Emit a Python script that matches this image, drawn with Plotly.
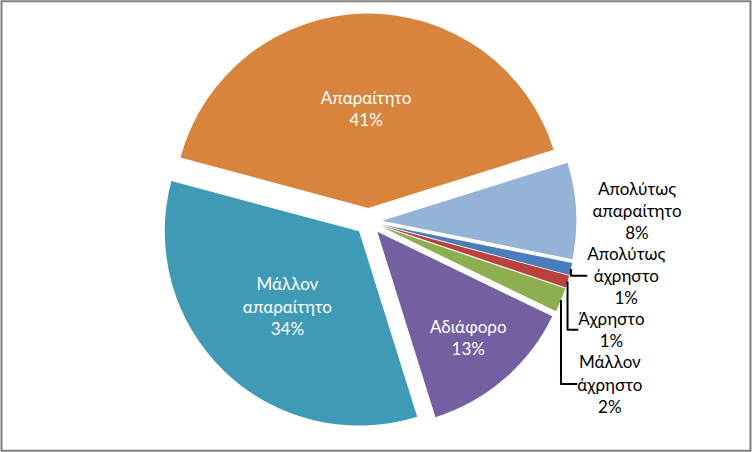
import plotly.graph_objects as go

categories = ['Απαραίτητο', 'Απολύτως απαραίτητο', 'Απολύτως άχρηστο',
              'Άχρηστο', 'Μάλλον άχρηστο', 'Αδιάφορο', 'Μάλλον απαραίτητο']
values = [41, 8, 1, 1, 2, 13, 34]
display_labels = ['Απαραίτητο', 'Απολύτως<br>απαραίτητο', 'Απολύτως<br>άχρηστο',
                  'Άχρηστο', 'Μάλλον<br>άχρηστο', 'Αδιάφορο', 'Μάλλον<br>απαραίτητο']

colors = ['#D9843C', '#95B3D7', '#4A7EBB', '#B9413E', '#8CAE4E', '#7460A0', '#3E9AB5']
positions = ['inside', 'outside', 'outside', 'outside', 'outside', 'inside', 'inside']
text_colors = ['white', 'black', 'black', 'black', 'black', 'white', 'white']

fig = go.Figure()

fig.add_trace(go.Pie(
    labels=categories,
    values=values,
    text=display_labels,
    texttemplate='%{text}<br>%{percent:.0%}',
    textposition=positions,
    insidetextorientation='horizontal',
    textfont=dict(family='Lato, sans-serif', size=17, color=text_colors),
    marker=dict(colors=colors, line=dict(color='white', width=0)),
    pull=[0.07, 0.07, 0.07, 0.07, 0.07, 0.07, 0.07],
    sort=False,
    direction='clockwise',
    rotation=-75,
    automargin=False,
    showlegend=False,
    domain=dict(x=[0.11, 0.87], y=[0.05, 0.97]),
))

# chart area border
fig.add_shape(type='rect', xref='paper', yref='paper',
              x0=0.002, y0=0.003, x1=0.998, y1=0.997,
              line=dict(color='#808080', width=2))

fig.update_layout(
    width=752,
    height=452,
    margin=dict(l=0, r=0, t=0, b=0),
    paper_bgcolor='white',
    plot_bgcolor='white',
)

# drop the page's default body margin so the figure fills the window
fig.write_html('out.html', config={'displayModeBar': False},
               post_script="document.body.style.margin='0';")
